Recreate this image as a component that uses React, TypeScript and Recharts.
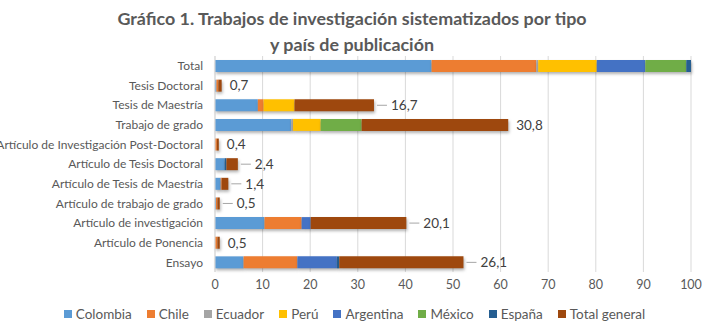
import { BarChart, Bar, XAxis, YAxis, CartesianGrid, Legend, LabelList } from "recharts";

const categories = [
  "Total",
  "Tesis Doctoral",
  "Tesis de Maestría",
  "Trabajo de grado",
  "Artículo de Investigación Post-Doctoral",
  "Artículo de Tesis Doctoral ",
  "Artículo de Tesis de Maestría",
  "Artículo de trabajo de grado",
  "Artículo de investigación",
  "Artículo de Ponencia",
  "Ensayo",
];

const colombia = [45.5, 0.3, 9.0, 16.0, 0, 2.0, 1.2, 0.2, 10.4, 0, 6.0];
const chile = [22.0, 0.4, 1.2, 0, 0.4, 0, 0.2, 0.3, 7.8, 0.5, 11.3];
const ecuador = [0.4, 0, 0, 0.4, 0, 0, 0, 0, 0, 0, 0];
const peru = [12.3, 0, 6.5, 5.8, 0, 0, 0, 0, 0, 0, 0];
const argentina = [10.2, 0, 0, 0, 0, 0, 0, 0, 1.9, 0, 8.3];
const mexico = [8.6, 0, 0, 8.6, 0, 0, 0, 0, 0, 0, 0];
const espana = [1.0, 0, 0, 0, 0, 0.4, 0, 0, 0, 0, 0.5];
const totalGeneral = [0, 0.7, 16.7, 30.8, 0.4, 2.4, 1.4, 0.5, 20.1, 0.5, 26.1];

const xTicks = [0, 10, 20, 30, 40, 50, 60, 70, 80, 90, 100];

// labels that Excel pulled out with a leader line
const withLeader = new Set([1, 4, 5, 6, 7, 9, 10]);

const series = [
  { key: "Colombia", values: colombia, color: "#5B9BD5" },
  { key: "Chile", values: chile, color: "#ED7D31" },
  { key: "Ecuador", values: ecuador, color: "#A5A5A5" },
  { key: "Perú", values: peru, color: "#FFC000" },
  { key: "Argentina", values: argentina, color: "#4472C4" },
  { key: "México", values: mexico, color: "#70AD47" },
  { key: "España", values: espana, color: "#255E91" },
  { key: "Total general", values: totalGeneral, color: "#9E480E" },
];

const data = categories.map((name, i) => {
  const row: Record<string, any> = { name };
  series.forEach((s) => (row[s.key] = s.values[i]));
  return row;
});

const FONT = "Lato, 'Noto Sans', sans-serif";

const TotalLabel = (props: any) => {
  const { x, y, width, height, value, index } = props;
  if (!value) return null;
  const end = x + width;
  const cy = y + height / 2;
  const leader = withLeader.has(index);
  const tx = leader ? end + 17 : end + 8;
  return (
    <g>
      {leader && (
        <line x1={end + 3} y1={cy} x2={end + 13} y2={cy} stroke="#A6A6A6" strokeWidth={1} />
      )}
      <text x={tx} y={cy} dy="0.36em" fill="#404040" fontSize={13.5} fontFamily={FONT}>
        {String(value).replace(".", ",")}
      </text>
    </g>
  );
};

const CategoryTick = (props: any) => {
  const { x, y, payload } = props;
  return (
    <text x={x} y={y} dy="0.36em" textAnchor="end" fill="#595959" fontSize={12} fontFamily={FONT}>
      {payload.value}
    </text>
  );
};

const LegendContent = () => (
  <div
    style={{
      display: "flex",
      justifyContent: "center",
      gap: 15,
      fontFamily: FONT,
      fontSize: 13.5,
      color: "#595959",
      whiteSpace: "nowrap",
    }}
  >
    {series.map((s) => (
      <div key={s.key} style={{ display: "flex", alignItems: "center", gap: 4 }}>
        <span style={{ width: 8, height: 8, background: s.color, display: "inline-block" }} />
        <span>{s.key}</span>
      </div>
    ))}
  </div>
);

export default function App() {
  return (
    <div style={{ position: "absolute", left: 0, top: 0, width: 709, height: 334, background: "#fff" }}>
      <style>{`.recharts-bar-rectangle path { filter: drop-shadow(1px 2px 1.5px rgba(0,0,0,0.3)); }`}</style>
      <BarChart
        width={709}
        height={334}
        data={data}
        layout="vertical"
        barSize={12}
        margin={{ top: 56, right: 18, left: 0, bottom: 8 }}
      >
        <CartesianGrid horizontal={false} stroke="#D9D9D9" />
        <XAxis
          type="number"
          domain={[0, 100]}
          ticks={xTicks}
          tickLine={false}
          axisLine={false}
          height={34}
          tick={{ fill: "#595959", fontSize: 12.5, fontFamily: FONT }}
        />
        <YAxis
          type="category"
          dataKey="name"
          width={215}
          tickLine={false}
          tickMargin={6}
          axisLine={{ stroke: "#D9D9D9" }}
          interval={0}
          tick={<CategoryTick />}
        />
        <Legend
          verticalAlign="bottom"
          height={20}
          content={<LegendContent />}
          wrapperStyle={{ left: 0, width: 709 }}
        />
        {series.map((s) => (
          <Bar key={s.key} dataKey={s.key} stackId="a" fill={s.color} isAnimationActive={false}>
            {s.key === "Total general" && <LabelList dataKey={s.key} content={<TotalLabel />} />}
          </Bar>
        ))}
      </BarChart>
      <div
        style={{
          position: "absolute",
          left: 0,
          width: 704,
          top: 5,
          textAlign: "center",
          fontFamily: FONT,
          fontWeight: 700,
          fontSize: 17.9,
          lineHeight: "26px",
          color: "#595959",
          whiteSpace: "nowrap",
        }}
      >
        Gráfico 1. Trabajos de investigación sistematizados por tipo
        <br />y país de publicación
      </div>
    </div>
  );
}
